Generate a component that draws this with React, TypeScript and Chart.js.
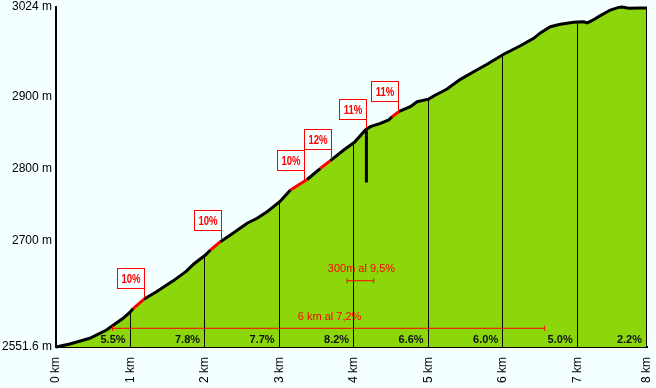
import { useEffect, useRef } from 'react';
import { Chart, registerables } from 'chart.js';

Chart.register(...registerables);

// ---- data ----
const profileKm = [
  0, 0.185, 0.453, 0.677, 0.9, 1.0, 1.035, 1.178, 1.348, 1.572, 1.75, 1.849, 2.005, 2.072, 2.206,
  2.34, 2.565, 2.699, 2.833, 3.002, 3.146, 3.37, 3.548, 3.682, 3.861, 4.004, 4.152, 4.219, 4.353,
  4.465, 4.51, 4.598, 4.755, 4.845, 5.0, 5.068, 5.247, 5.426, 5.604, 5.784, 6.007, 6.231, 6.409,
  6.499, 6.633, 6.767, 6.946, 7.0, 7.08, 7.13, 7.19, 7.304, 7.438, 7.55, 7.595, 7.684, 7.84, 7.93,
];
const profileElev = [
  2551.6, 2555.8, 2563.7, 2575.2, 2591.5, 2600.6, 2605.0, 2617.9, 2628.4, 2643.5, 2657.0, 2667.0,
  2679.4, 2686.4, 2697.9, 2707.2, 2723.5, 2730.4, 2739.6, 2753.5, 2769.7, 2784.3, 2799.9, 2810.5,
  2825.3, 2836.0, 2853.1, 2857.7, 2862.4, 2867.0, 2871.6, 2878.5, 2885.5, 2892.4, 2896.0, 2900.3,
  2910.1, 2923.5, 2934.1, 2944.4, 2958.3, 2970.2, 2980.5, 2988.0, 2996.6, 2999.9, 3002.7, 3003.0,
  3003.5, 3002.0, 3005.0, 3012.0, 3019.8, 3023.5, 3024.0, 3022.2, 3022.6, 3022.6,
];

const yTickValues = [2551.6, 2700, 2800, 2900, 3024];
const yTickLabels = ['2551.6 m', '2700 m', '2800 m', '2900 m', '3024 m'];
const xTickValues = [0, 1, 2, 3, 4, 5, 6, 7, 7.93];
const xTickLabels = ['0 km', '1 km', '2 km', '3 km', '4 km', '5 km', '6 km', '7 km', '8 km'];

const segmentEndKm = [1, 2, 3, 4, 5, 6, 7, 7.93];
const segmentGrades = ['5.5%', '7.8%', '7.7%', '8.2%', '6.6%', '6.0%', '5.0%', '2.2%'];

const steepStartKm = [1.035, 2.072, 3.146, 3.548, 4.51];
const steepEndKm = [1.178, 2.206, 3.37, 3.682, 4.598];

const markerKm = [1.178, 2.216, 3.333, 3.692, 4.161, 4.59];
const markerLabels = ['10%', '10%', '10%', '12%', '11%', '11%'];

const spikeKm = [4.165, 4.165];
const spikeElev = [2852, 2780];

const longClimbKm = [0.758, 6.557];
const longClimbElev = 2577.6;
const longClimbLabel = '6 km al 7,2%';
const shortClimbKm = [3.906, 4.263];
const shortClimbElev = 2643.7;
const shortClimbLabel = '300m al 9,5%';

// ---- styles ----
const BG = '#f4ffff';
const GREEN = 'rgb(140,215,12)';
const RED = '#ff0000';
const FONT = "'Liberation Sans', Arial, sans-serif";

function elevAt(km: number): number {
  for (let i = 1; i < profileKm.length; i++) {
    if (km <= profileKm[i]) {
      const t = (km - profileKm[i - 1]) / (profileKm[i] - profileKm[i - 1]);
      return profileElev[i - 1] + t * (profileElev[i] - profileElev[i - 1]);
    }
  }
  return profileElev[profileElev.length - 1];
}

function isSteep(a: number, b: number): boolean {
  for (let i = 0; i < steepStartKm.length; i++) {
    if (a >= steepStartKm[i] - 1e-6 && b <= steepEndKm[i] + 1e-6) return true;
  }
  return false;
}

const decorPlugin = {
  id: 'decor',
  afterDatasetDraw(chart: any, args: any) {
    if (args.index !== 0) return;
    const { ctx, chartArea } = chart;
    const x = chart.scales.x;
    const y = chart.scales.y;
    ctx.save();
    ctx.strokeStyle = '#000';
    ctx.lineWidth = 1;
    for (const km of segmentEndKm) {
      const px = Math.round(x.getPixelForValue(km)) - 0.5;
      const top = y.getPixelForValue(elevAt(km));
      ctx.beginPath();
      ctx.moveTo(px, chartArea.bottom);
      ctx.lineTo(px, top);
      ctx.stroke();
    }
    ctx.restore();
  },
  afterDatasetsDraw(chart: any) {
    const { ctx, chartArea } = chart;
    const x = chart.scales.x;
    const y = chart.scales.y;
    ctx.save();
    // grade labels per km
    ctx.font = `bold 11px ${FONT}`;
    ctx.fillStyle = '#111';
    ctx.textAlign = 'right';
    ctx.textBaseline = 'middle';
    segmentEndKm.forEach((km, i) => {
      ctx.fillText(segmentGrades[i], x.getPixelForValue(km) - 5, chartArea.bottom - 7);
    });
    // climb labels
    ctx.font = `11px ${FONT}`;
    ctx.fillStyle = RED;
    ctx.textAlign = 'center';
    ctx.fillText(
      longClimbLabel,
      (x.getPixelForValue(longClimbKm[0]) + x.getPixelForValue(longClimbKm[1])) / 2 + 1,
      y.getPixelForValue(longClimbElev) - 11
    );
    ctx.fillText(
      shortClimbLabel,
      (x.getPixelForValue(shortClimbKm[0]) + x.getPixelForValue(shortClimbKm[1])) / 2 + 1,
      y.getPixelForValue(shortClimbElev) - 12
    );
    // markers
    markerKm.forEach((km, i) => {
      const px = Math.round(x.getPixelForValue(km)) + 0.5;
      const py = y.getPixelForValue(elevAt(km));
      const bottom = Math.round(py - 11) + 0.5;
      const w = 27;
      const h = 20;
      ctx.fillStyle = BG;
      ctx.fillRect(px - w, bottom - h, w, h);
      ctx.strokeStyle = RED;
      ctx.lineWidth = 1;
      ctx.strokeRect(px - w, bottom - h, w, h);
      ctx.beginPath();
      ctx.moveTo(px, bottom);
      ctx.lineTo(px, py - 1);
      ctx.stroke();
      ctx.save();
      ctx.translate(px - w / 2, bottom - h / 2 + 1);
      ctx.scale(0.8, 1);
      ctx.font = `bold 12px ${FONT}`;
      ctx.fillStyle = RED;
      ctx.textAlign = 'center';
      ctx.textBaseline = 'middle';
      ctx.fillText(markerLabels[i], 0, 0);
      ctx.restore();
    });
    ctx.restore();
  },
};

export default function App() {
  const ref = useRef<HTMLCanvasElement | null>(null);

  useEffect(() => {
    document.body.style.margin = '0';
    document.body.style.background = BG;
    const canvas = ref.current;
    if (!canvas) return;
    Chart.defaults.font.family = FONT;
    Chart.defaults.color = '#000';

    const profile = profileKm.map((k, i) => ({ x: k, y: profileElev[i] }));

    const chart = new Chart(canvas, {
      type: 'line',
      data: {
        datasets: [
          {
            data: profile,
            borderColor: 'transparent',
            borderWidth: 0,
            backgroundColor: GREEN,
            fill: 'start',
            pointRadius: 0,
            order: 10,
          } as any,
          {
            data: profile,
            borderColor: '#000',
            borderWidth: 3,
            fill: false,
            pointRadius: 0,
            clip: false,
            order: 5,
            segment: {
              borderColor: (c: any) => (isSteep(c.p0.parsed.x, c.p1.parsed.x) ? RED : '#000'),
            },
          } as any,
          {
            data: spikeKm.map((k, i) => ({ x: k, y: spikeElev[i] })),
            borderColor: '#000',
            borderWidth: 3,
            fill: false,
            pointRadius: 0,
            order: 4,
          } as any,
          {
            data: longClimbKm.map((k) => ({ x: k, y: longClimbElev })),
            borderColor: RED,
            borderWidth: 1,
            fill: false,
            pointStyle: 'line',
            rotation: 90,
            pointRadius: 2.5,
            pointBorderColor: RED,
            pointBorderWidth: 1,
            order: 3,
          } as any,
          {
            data: shortClimbKm.map((k) => ({ x: k, y: shortClimbElev })),
            borderColor: RED,
            borderWidth: 1,
            fill: false,
            pointStyle: 'line',
            rotation: 90,
            pointRadius: 2.5,
            pointBorderColor: RED,
            pointBorderWidth: 1,
            order: 2,
          } as any,
        ],
      },
      options: {
        responsive: false,
        animation: false,
        layout: { padding: { top: 7, right: 9, left: 0, bottom: 0 } },
        plugins: { legend: { display: false }, tooltip: { enabled: false } },
        elements: { line: { tension: 0 } },
        scales: {
          x: {
            type: 'linear',
            min: 0,
            max: 7.93,
            afterBuildTicks: (s: any) => {
              s.ticks = xTickValues.map((v) => ({ value: v }));
            },
            afterFit: (s: any) => {
              s.height = 41;
              s.paddingLeft = 0;
              s.paddingRight = 0;
            },
            grid: { display: false, drawTicks: false },
            border: { display: true, color: '#000', width: 2 },
            ticks: {
              autoSkip: false,
              minRotation: 90,
              maxRotation: 90,
              padding: 10,
              color: '#000',
              font: { size: 12, family: FONT },
              callback: (_v: any, i: number) => xTickLabels[i],
            },
          },
          y: {
            type: 'linear',
            min: 2551.6,
            max: 3024,
            afterBuildTicks: (s: any) => {
              s.ticks = yTickValues.map((v) => ({ value: v }));
            },
            afterFit: (s: any) => {
              s.width = 56;
              s.paddingTop = 0;
              s.paddingBottom = 0;
            },
            grid: { display: false, drawTicks: false },
            border: { display: true, color: '#000', width: 2 },
            ticks: {
              padding: 4,
              color: '#000',
              font: { size: 12, family: FONT },
              callback: (_v: any, i: number) => yTickLabels[i],
            },
          },
        },
      } as any,
      plugins: [decorPlugin],
    });
    return () => chart.destroy();
  }, []);

  return (
    <div style={{ position: 'fixed', left: 0, top: 0, width: 656, height: 388, background: BG }}>
      <canvas ref={ref} width={656} height={388} style={{ display: 'block' }} />
    </div>
  );
}
